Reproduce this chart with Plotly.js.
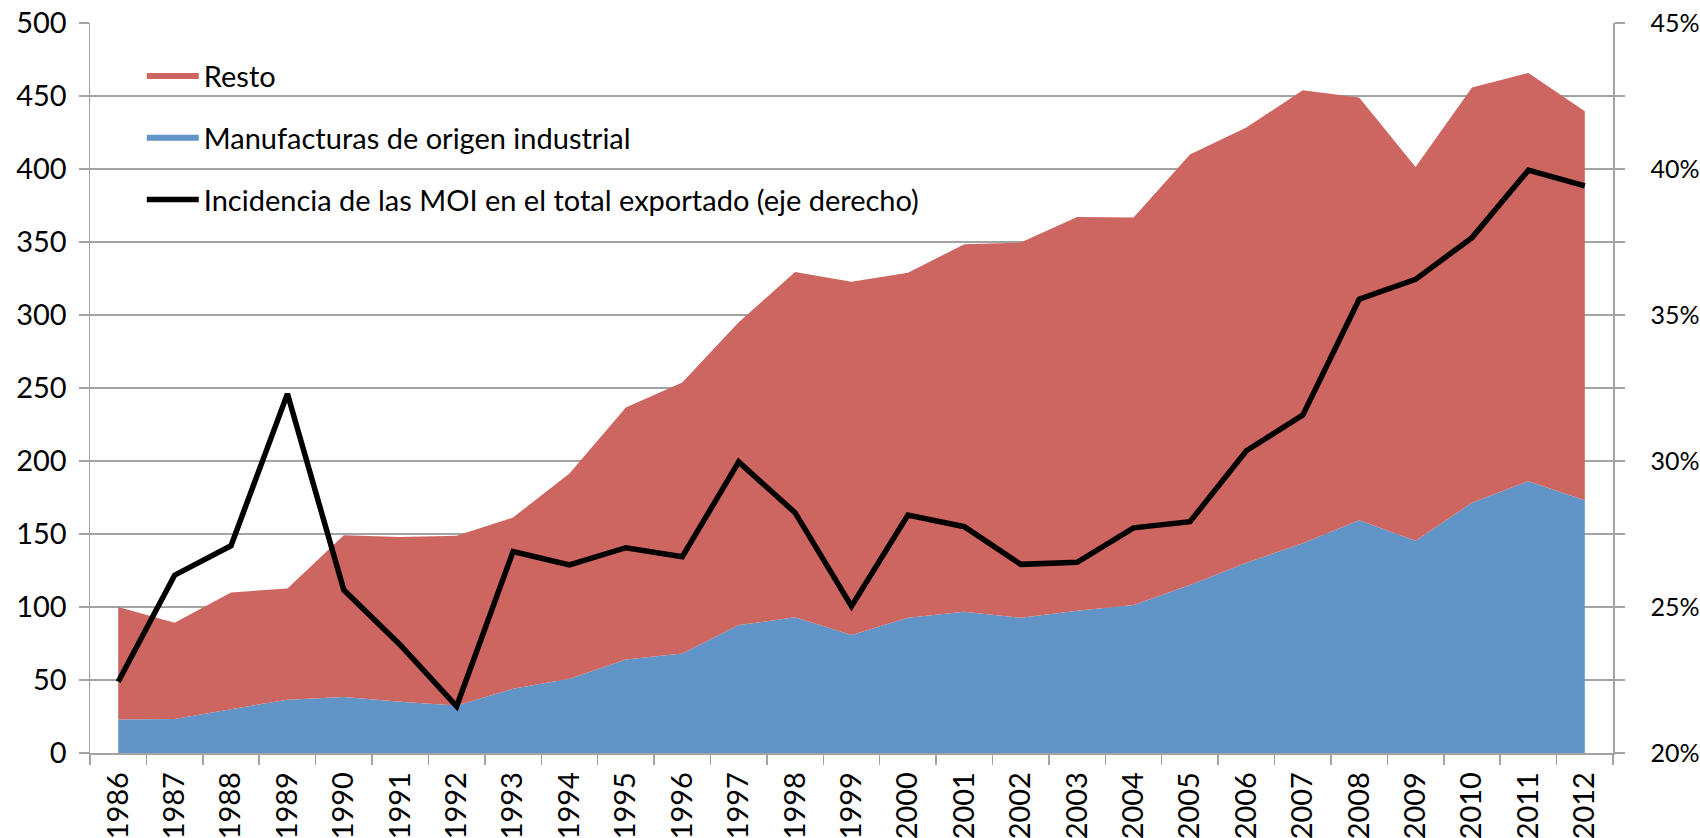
<!DOCTYPE html>
<html>
<head>
<meta charset="utf-8">
<script src="https://cdn.plot.ly/plotly-3.0.1.min.js"></script>
<style>html,body{margin:0;padding:0;background:#fff}#chart{width:1700px;height:838px}</style>
</head>
<body>
<div id="chart"></div>
<script>
const years = ['1986','1987','1988','1989','1990','1991','1992','1993','1994','1995','1996','1997','1998','1999','2000','2001','2002','2003','2004','2005','2006','2007','2008','2009','2010','2011','2012'];
// Manufacturas de origen industrial (left axis)
const moi = [23, 23.3, 30, 36.5, 38.3, 35.1, 32.6, 44, 50.9, 64, 68.2, 87.6, 92.9, 80.8, 92.6, 96.7, 92.6, 97.4, 101.3, 115, 130.3, 143.6, 159.5, 145.4, 171.4, 186.2, 173.2];
// Total exportado = MOI + Resto (top of red area, left axis)
const total = [100, 89.2, 110, 112.7, 149.2, 148, 148.8, 161.3, 191.5, 236.7, 253.8, 295, 329.5, 322.7, 328.9, 348.5, 349.6, 367.2, 366.8, 409.9, 428.4, 453.9, 448.9, 401.4, 455.8, 465.8, 439.5];
// Incidencia de las MOI en el total exportado (%; right axis)
const incidencia = [22.44, 26.09, 27.1, 32.3, 25.58, 23.7, 21.6, 26.9, 26.44, 27.03, 26.72, 29.97, 28.23, 25.03, 28.15, 27.75, 26.46, 26.53, 27.71, 27.92, 30.35, 31.57, 35.54, 36.22, 37.65, 39.96, 39.42];

const FONT = 'Lato, "Open Sans", sans-serif';
const FS = 29;
const GRID = '#A3A3A3';

const traces = [
  {
    x: years, y: moi, type: 'scatter', mode: 'none', fill: 'tozeroy',
    fillcolor: '#6195C8', name: 'Manufacturas de origen industrial',
    legendgroup: 'b', legendrank: 2, hoverinfo: 'x+y'
  },
  {
    x: years, y: total, type: 'scatter', mode: 'none', fill: 'tonexty',
    fillcolor: '#CD6660', name: 'Resto',
    legendgroup: 'a', legendrank: 1, hoverinfo: 'x+y'
  },
  {
    x: years, y: incidencia, type: 'scatter', mode: 'lines', yaxis: 'y2',
    line: {color: '#000000', width: 5.5, shape: 'linear'},
    name: 'Incidencia de las MOI en el total exportado (eje derecho)',
    legendgroup: 'c', legendrank: 3, hoverinfo: 'x+y'
  }
];

const layout = {
  width: 1700, height: 838,
  margin: {l: 90, r: 87, t: 23, b: 85},
  paper_bgcolor: '#ffffff', plot_bgcolor: '#ffffff',
  font: {family: FONT, size: FS, color: '#000000'},
  showlegend: true,
  legend: {
    x: 0.034, y: 0.962, xanchor: 'left', yanchor: 'top',
    bgcolor: 'rgba(0,0,0,0)', traceorder: 'grouped', tracegroupgap: 21,
    font: {family: FONT, size: FS, color: '#000'}, itemwidth: 52
  },
  xaxis: {
    type: 'category', range: [-0.5, 26.5], tickson: 'boundaries',
    ticks: 'outside', ticklen: 10, tickwidth: 1.5, tickcolor: GRID,
    showline: true, linecolor: GRID, linewidth: 1.5,
    showgrid: false, zeroline: false, tickangle: -90,
    tickfont: {family: FONT, size: FS, color: '#000'}, ticklabelstandoff: 6,
    fixedrange: true
  },
  yaxis: {
    range: [0, 500], dtick: 50, tick0: 0,
    ticks: 'outside', ticklen: 10, tickwidth: 1.5, tickcolor: GRID,
    showline: true, linecolor: GRID, linewidth: 1.5,
    showgrid: true, gridcolor: GRID, gridwidth: 1.5, zeroline: false,
    tickfont: {family: FONT, size: FS, color: '#000'}, ticklabelstandoff: 6,
    fixedrange: true
  },
  yaxis2: {
    overlaying: 'y', side: 'right', range: [20, 45], dtick: 5, tick0: 20,
    ticksuffix: '%', ticks: 'outside', ticklen: 10, tickwidth: 1.5, tickcolor: GRID,
    minor: {dtick: 2.5, ticks: 'outside', ticklen: 10, tickwidth: 1.5, tickcolor: GRID, showgrid: false},
    showline: true, linecolor: GRID, linewidth: 1.5,
    showgrid: false, zeroline: false,
    tickfont: {family: FONT, size: 25, color: '#000'}, ticklabelstandoff: 21,
    fixedrange: true
  }
};

Plotly.newPlot('chart', traces, layout, {displayModeBar: false, staticPlot: true});
</script>
</body>
</html>
